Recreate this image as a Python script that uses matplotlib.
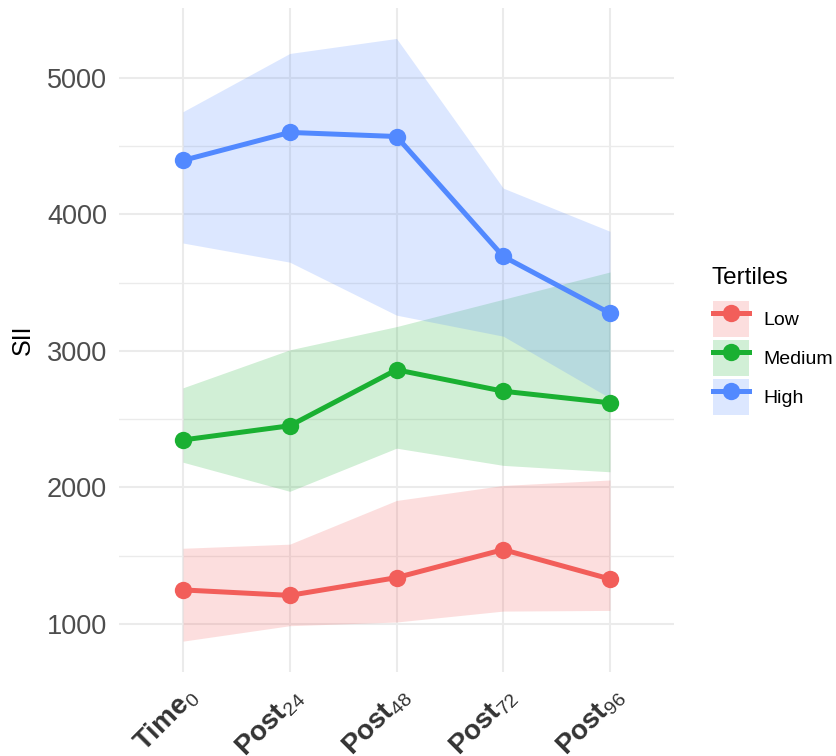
import numpy as np
import matplotlib
matplotlib.use("Agg")
import matplotlib.pyplot as plt
from matplotlib.lines import Line2D
from matplotlib.patches import Patch
from matplotlib.legend_handler import HandlerTuple
import matplotlib.transforms as mtransforms

# ------------------------------------------------------------
# Data
# ------------------------------------------------------------
times = ["Time", "Post", "Post", "Post", "Post"]
subs = ["0", "24", "48", "72", "96"]

low_mean = [1250, 1210, 1340, 1545, 1330]
low_upper = [1555, 1585, 1905, 2015, 2055]
low_lower = [875, 988, 1015, 1095, 1100]

med_mean = [2348, 2452, 2862, 2705, 2620]
med_upper = [2730, 3008, 3178, 3378, 3578]
med_lower = [2185, 1972, 2288, 2162, 2115]

high_mean = [4395, 4600, 4570, 3692, 3276]
high_upper = [4752, 5178, 5288, 4192, 3876]
high_lower = [3790, 3650, 3262, 3108, 2655]

groups = ["Low", "Medium", "High"]
colors = ["#F25E5A", "#1AB032", "#5289FF"]

# ------------------------------------------------------------
# Style
# ------------------------------------------------------------
plt.rcParams.update({
    "font.family": ["Liberation Sans", "DejaVu Sans"],
    "mathtext.fontset": "custom",
    "mathtext.rm": "Liberation Sans",
    "mathtext.bf": "Liberation Sans:bold",
    "mathtext.it": "Liberation Sans:italic",
})

fig = plt.figure(figsize=(8.36, 7.56), dpi=100)
ax = fig.add_axes([119 / 836, 1 - 672 / 756, (674 - 119) / 836, (672 - 8) / 756])

x = np.arange(1, len(subs) + 1)
series = [
    (low_mean, low_lower, low_upper),
    (med_mean, med_lower, med_upper),
    (high_mean, high_lower, high_upper),
]

# ribbons first, then lines, then points (ggplot layer order)
for (m, lo, up), c in zip(series, colors):
    ax.fill_between(x, lo, up, color=c, alpha=0.2, linewidth=0, zorder=2)
for (m, lo, up), c in zip(series, colors):
    ax.plot(x, m, color=c, linewidth=3.6, solid_capstyle="butt", zorder=3)
for (m, lo, up), c in zip(series, colors):
    ax.plot(x, m, "o", color=c, markersize=12.5, markeredgewidth=0, zorder=4)

ax.set_xlim(0.4, 5.6)
ax.set_ylim(649, 5511)

# grid, theme_minimal style
ax.set_yticks([1000, 2000, 3000, 4000, 5000])
ax.set_yticks([1500, 2500, 3500, 4500], minor=True)
ax.set_xticks(x)
ax.grid(which="major", color="#EBEBEB", linewidth=1.5, zorder=0)
ax.grid(which="minor", axis="y", color="#EBEBEB", linewidth=1.0, zorder=0)
ax.set_axisbelow(True)
for s in ax.spines.values():
    s.set_visible(False)
ax.tick_params(which="both", length=0)
ax.tick_params(axis="y", labelsize=19.5, labelcolor="#4D4D4D", pad=8.5)

labels = [rf"$\mathbf{{{t}}}_{{{s}}}$" for t, s in zip(times, subs)]
ax.set_xticklabels(labels, rotation=45, ha="right", va="center",
                   rotation_mode="anchor", fontsize=20, color="#333333")
offset = mtransforms.ScaledTranslation(10 / 100, -16 / 100, fig.dpi_scale_trans)
for lab in ax.get_xticklabels():
    lab.set_transform(lab.get_transform() + offset)

ax.set_ylabel("SII", fontsize=18)
ax.yaxis.set_label_coords((35 - 119) / 555, 0.5)

# legend: fill box + line with point, title drawn separately
fig.text(712 / 836, 1 - 284 / 756, "Tertiles", fontsize=17.5,
         ha="left", va="baseline")
handles = []
for c in colors:
    handles.append((Patch(facecolor=c, alpha=0.2, edgecolor="none"),
                    Line2D([], [], color=c, linewidth=3.6, marker="o",
                           markersize=12.5, markeredgewidth=0)))
leg = fig.legend(handles, groups, handler_map={tuple: HandlerTuple(ndivide=1, pad=0)},
                 loc="upper left", bbox_to_anchor=(713 / 836, 1 - 301 / 756),
                 frameon=False, fontsize=14,
                 handlelength=1.85, handleheight=2.47,
                 labelspacing=0.15, handletextpad=0.72, numpoints=1,
                 borderaxespad=0, borderpad=0)

fig.savefig("out.png", dpi=100)
